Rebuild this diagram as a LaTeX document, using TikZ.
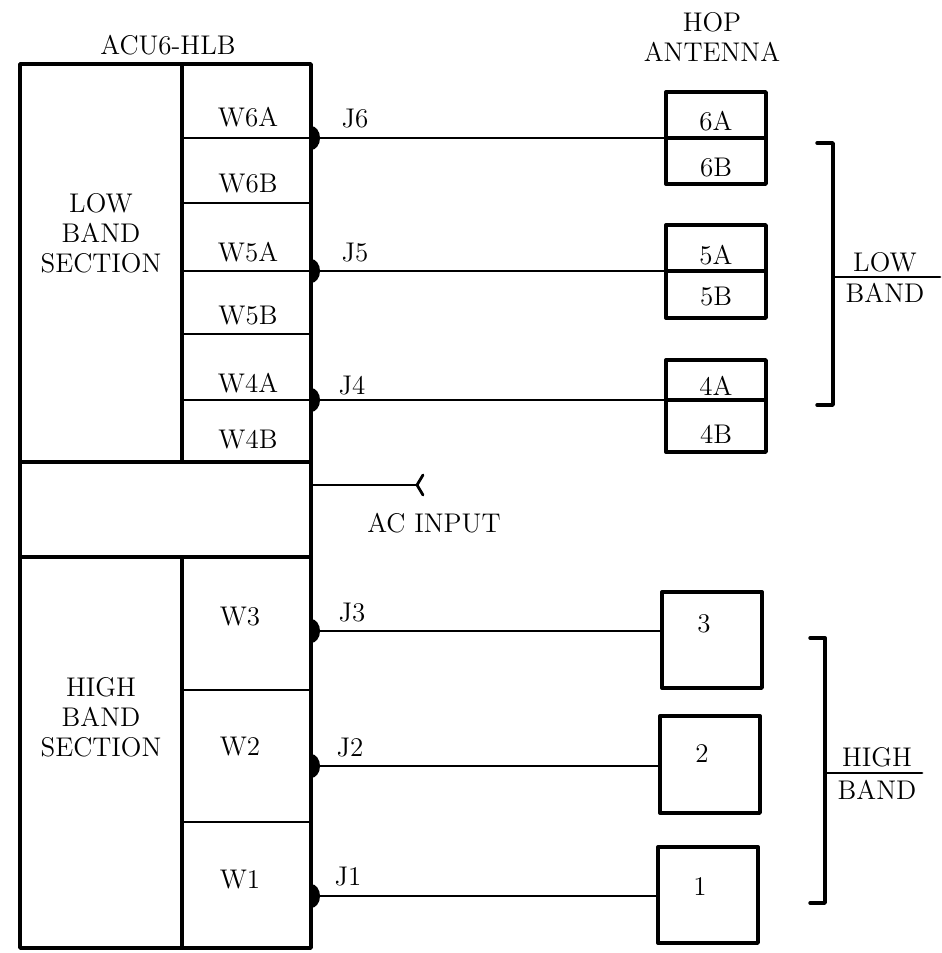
\documentclass[tikz,border=0pt]{standalone}
\usepackage{fontspec}
\usepackage{tikz}

\begin{document}
\begin{tikzpicture}[x=0.5pt, y=-0.5pt, line join=round, line cap=round,
    every node/.style={font=\fontsize{13.5}{15}\selectfont\addfontfeature{LetterSpace=10}},
    frame/.style={line width=1.7pt},
    wire/.style={line width=1.4pt},
    antbox/.style={draw, line width=1.7pt, minimum width=50pt, inner sep=0pt}]
  \useasboundingbox (0,0) rectangle (942,953);

  % the ACU6-HLB unit
  \node (acu) at (168,45) {ACU6-HLB};
  \draw[frame] (20,64) rectangle (311,948);
  \draw[frame] (182,64) -- (182,462);
  \draw[frame] (182,557) -- (182,948);
  \draw[frame] (20,462) -- (311,462);
  \draw[frame] (20,557) -- (311,557);
  \foreach \y in {138,203,271,334,400,690,822}
    \draw[wire] (182,\y) -- (311,\y);
  \node[align=center] (lowsec) at (101,233) {LOW\\BAND\\SECTION};
  \node[align=center] (highsec) at (101,717) {HIGH\\BAND\\SECTION};
  \node (w6a) at (248,117) {W6A};
  \node (w6b) at (248,184) {W6B};
  \node (w5a) at (248,252) {W5A};
  \node (w5b) at (248,316) {W5B};
  \node (w4a) at (248,383) {W4A};
  \node (w4b) at (248,440) {W4B};
  \node (w3) at (240,617) {W3};
  \node (w2) at (240,747) {W2};
  \node (w1) at (240,880) {W1};

  % jacks
  \coordinate (j6) at (311,138);
  \coordinate (j5) at (311,271);
  \coordinate (j4) at (311,400);
  \coordinate (j3) at (311,631);
  \coordinate (j2) at (311,766);
  \coordinate (j1) at (311,896);
  \foreach \j in {j6,j5,j4,j3,j2,j1}
    \fill (\j) ++(0,-12) arc[start angle=90, end angle=-90, x radius=4.5pt, y radius=6pt] -- cycle;
  \node (lj6) at (355,119) {J6};
  \node (lj5) at (355,253) {J5};
  \node (lj4) at (352,386) {J4};
  \node (lj3) at (352,613) {J3};
  \node (lj2) at (350,748) {J2};
  \node (lj1) at (348,877) {J1};

  % AC input
  \coordinate (acin) at (311,485);
  \coordinate (acend) at (417,485);
  \draw[wire] (acin) -- (acend);
  \draw[wire] (acend) ++(6,-10) -- (acend) -- ++(6,10);
  \node (actxt) at (434,523) {AC INPUT};

  % hop antenna
  \node (hop) at (712,37) [align=center] {HOP\\ANTENNA};
  \node[antbox, minimum height=23pt] (a6a) at (716,115) {};
  \node[antbox, minimum height=23pt] (a6b) at (716,161) {};
  \node[antbox, minimum height=23pt] (a5a) at (716,248) {};
  \node[antbox, minimum height=23.5pt] (a5b) at (716,294.5) {};
  \node[antbox, minimum height=20pt] (a4a) at (716,380) {};
  \node[antbox, minimum height=26pt] (a4b) at (716,426) {};
  \node[antbox, minimum height=48pt] (a3) at (712,640) {};
  \node[antbox, minimum height=48.5pt] (a2) at (710,764.5) {};
  \node[antbox, minimum height=48pt] (a1) at (708,895) {};
  \node (l6a) at (716,121) {6A};
  \node (l6b) at (716,168) {6B};
  \node (l5a) at (716,255) {5A};
  \node (l5b) at (716,297) {5B};
  \node (l4a) at (716,386) {4A};
  \node (l4b) at (716,434) {4B};
  \node (l3) at (704,624) {3};
  \node (l2) at (702,754) {2};
  \node (l1) at (700,887) {1};

  \draw[wire] (j6) -- (j6 -| a6a.west);
  \draw[wire] (j5) -- (j5 -| a5a.west);
  \draw[wire] (j4) -- (j4 -| a4a.west);
  \draw[wire] (j3) -- (j3 -| a3.west);
  \draw[wire] (j2) -- (j2 -| a2.west);
  \draw[wire] (j1) -- (j1 -| a1.west);

  % band brackets
  \draw[frame] (817,143) -- (833,143) -- (833,405) -- (817,405);
  \draw[wire] (833,277) -- (940,277);
  \node (lowb) at (885,262) {LOW};
  \node (lowb2) at (885,293) {BAND};
  \draw[frame] (810,638) -- (825,638) -- (825,903) -- (810,903);
  \draw[wire] (825,773) -- (922,773);
  \node (highb) at (877,757) {HIGH};
  \node (highb2) at (877,790) {BAND};
\end{tikzpicture}
\end{document}
